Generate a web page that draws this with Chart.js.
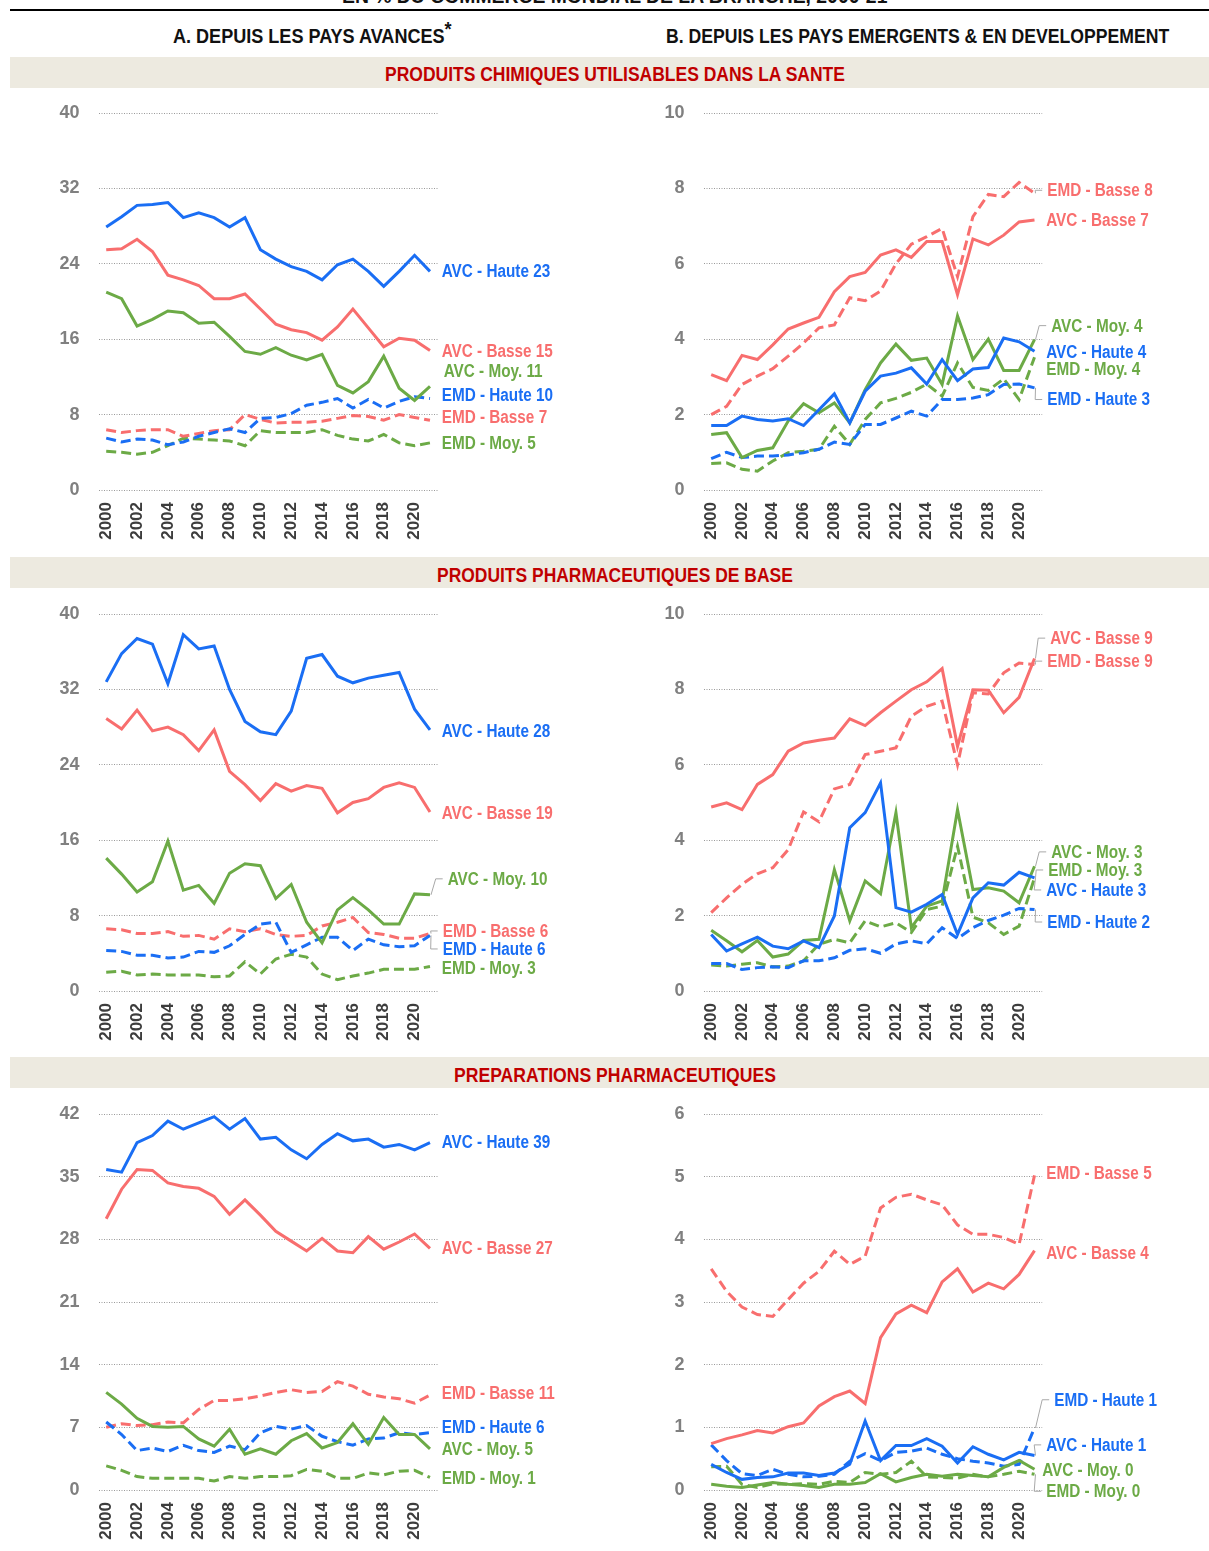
<!DOCTYPE html>
<html><head><meta charset="utf-8">
<script src="https://cdn.jsdelivr.net/npm/chart.js@4.4.1/dist/chart.umd.min.js"></script>
<style>
html,body{margin:0;padding:0;background:#fff;}
body{position:relative;width:1209px;height:1551px;overflow:hidden;font-family:"Liberation Sans",Arial,sans-serif;}
.rule{position:absolute;left:10px;top:9px;width:1199px;height:2px;background:#000;}
.band{position:absolute;left:10px;width:1199px;height:31px;background:#EDEAE0;}
.txt{position:absolute;left:0;top:0;white-space:nowrap;font-weight:bold;font-size:20px;line-height:20px;transform-origin:center center;color:#111;}
.red{color:#C00000;}
canvas{position:absolute;}
</style></head><body>
<div class="rule"></div>
<div class="band" style="top:57px"></div>
<div class="band" style="top:557px"></div>
<div class="band" style="top:1057px"></div>
<div class="txt" data-cx="614" data-cy="-4" data-w="545">EN % DU COMMERCE MONDIAL DE LA BRANCHE, 2000-21</div>
<div class="txt" data-cx="312" data-cy="35.5" data-w="279">A. DEPUIS LES PAYS AVANCES<span style="position:relative;top:-7px">*</span></div>
<div class="txt" data-cx="917" data-cy="35.5" data-w="503">B. DEPUIS LES PAYS EMERGENTS &amp; EN DEVELOPPEMENT</div>
<div class="txt red" data-cx="615" data-cy="74" data-w="460">PRODUITS CHIMIQUES UTILISABLES DANS LA SANTE</div>
<div class="txt red" data-cx="615" data-cy="575" data-w="356">PRODUITS PHARMACEUTIQUES DE BASE</div>
<div class="txt red" data-cx="615" data-cy="1075" data-w="322">PREPARATIONS PHARMACEUTIQUES</div>
<script>
// ---------- categories & ticks ----------
const years = ['2000','2001','2002','2003','2004','2005','2006','2007','2008','2009','2010','2011','2012','2013','2014','2015','2016','2017','2018','2019','2020','2021'];
const xTickLabels = ['2000','2002','2004','2006','2008','2010','2012','2014','2016','2018','2020'];
const yTicksA12 = [0,8,16,24,32,40];
const yTicksB12 = [0,2,4,6,8,10];
const yTicksA3 = [0,7,14,21,28,35,42];
const yTicksB3 = [0,1,2,3,4,5,6];

// ---------- 1A : produits chimiques, depuis pays avancés ----------
const chimA_avcHaute = [27.9,29.0,30.2,30.3,30.5,28.9,29.4,28.9,27.9,28.9,25.5,24.5,23.7,23.2,22.3,23.9,24.5,23.2,21.6,23.2,24.9,23.2];
const chimA_avcBasse = [25.5,25.6,26.6,25.3,22.8,22.3,21.7,20.3,20.3,20.8,19.2,17.6,17.0,16.7,15.9,17.3,19.2,17.2,15.2,16.1,15.9,14.8];
const chimA_avcMoy   = [21.0,20.3,17.4,18.1,19.0,18.8,17.7,17.8,16.3,14.7,14.4,15.1,14.3,13.8,14.4,11.1,10.3,11.5,14.2,10.8,9.5,11.0];
const chimA_emdHaute = [5.5,5.1,5.4,5.3,4.8,5.1,5.7,6.1,6.5,6.1,7.6,7.7,8.1,9.0,9.3,9.7,8.7,9.6,8.7,9.4,9.9,9.7];
const chimA_emdBasse = [6.4,6.1,6.3,6.4,6.4,5.7,6.0,6.3,6.4,8.0,7.5,7.1,7.2,7.2,7.3,7.6,7.9,7.8,7.4,8.0,7.7,7.4];
const chimA_emdMoy   = [4.1,4.0,3.8,4.0,4.7,5.5,5.4,5.3,5.2,4.7,6.3,6.1,6.1,6.1,6.4,5.8,5.4,5.2,5.9,5.0,4.7,5.0];

// ---------- 1B : produits chimiques, depuis pays émergents ----------
const chimB_avcHaute = [1.71,1.71,1.96,1.87,1.83,1.89,1.71,2.13,2.55,1.78,2.62,3.02,3.10,3.24,2.81,3.46,2.90,3.21,3.25,4.03,3.93,3.68];
const chimB_avcBasse = [3.06,2.90,3.57,3.46,3.85,4.27,4.43,4.58,5.26,5.66,5.77,6.23,6.37,6.17,6.59,6.59,5.18,6.66,6.50,6.76,7.11,7.16];
const chimB_avcMoy   = [1.47,1.52,0.86,1.05,1.12,1.83,2.29,2.05,2.31,1.78,2.66,3.37,3.87,3.44,3.50,2.80,4.62,3.46,4.00,3.17,3.17,3.99];
const chimB_emdHaute = [0.83,1.00,0.86,0.90,0.90,0.93,0.99,1.08,1.27,1.21,1.74,1.74,1.91,2.09,1.96,2.40,2.40,2.44,2.53,2.80,2.81,2.71];
const chimB_emdBasse = [2.00,2.22,2.80,3.02,3.22,3.55,3.90,4.30,4.38,5.10,5.02,5.28,6.00,6.52,6.72,6.94,5.66,7.25,7.84,7.78,8.16,7.87];
const chimB_emdMoy   = [0.70,0.72,0.55,0.50,0.77,0.99,1.03,1.08,1.69,1.21,1.87,2.31,2.43,2.59,2.81,2.49,3.37,2.72,2.64,2.95,2.40,3.52];

// ---------- 2A : produits pharmaceutiques de base, pays avancés ----------
const baseA_avcHaute = [32.8,35.8,37.4,36.8,32.6,37.8,36.3,36.6,32.0,28.6,27.5,27.2,29.7,35.3,35.7,33.4,32.7,33.2,33.5,33.8,29.9,27.7];
const baseA_avcBasse = [28.9,27.8,29.8,27.6,28.0,27.2,25.5,27.7,23.3,21.9,20.2,22.0,21.2,21.8,21.5,18.9,20.0,20.4,21.6,22.1,21.6,19.0];
const baseA_avcMoy   = [14.1,12.4,10.5,11.6,15.9,10.7,11.2,9.3,12.5,13.5,13.3,9.8,11.3,7.3,5.1,8.6,9.9,8.6,7.1,7.1,10.3,10.2];
const baseA_emdHaute = [4.3,4.2,3.8,3.8,3.5,3.6,4.2,4.1,4.8,6.0,7.1,7.3,4.1,4.9,5.7,5.7,4.3,5.5,4.9,4.7,4.8,5.9];
const baseA_emdBasse = [6.6,6.5,6.1,6.1,6.3,5.8,5.9,5.5,6.6,6.3,6.6,6.0,5.8,5.9,6.9,7.3,7.8,6.2,6.0,5.6,5.6,6.1];
const baseA_emdMoy   = [2.0,2.1,1.7,1.8,1.7,1.7,1.7,1.5,1.6,3.1,1.8,3.4,3.9,3.6,1.8,1.2,1.6,1.9,2.3,2.3,2.3,2.6];

// ---------- 2B : produits pharmaceutiques de base, pays émergents ----------
const baseB_avcHaute = [1.50,1.06,1.25,1.43,1.19,1.12,1.33,1.15,1.99,4.33,4.73,5.52,2.21,2.09,2.30,2.56,1.50,2.47,2.87,2.81,3.15,3.00];
const baseB_avcBasse = [4.88,4.99,4.81,5.48,5.74,6.36,6.58,6.65,6.71,7.22,7.04,7.38,7.69,7.99,8.20,8.55,6.49,7.99,7.98,7.38,7.79,8.82];
const baseB_avcMoy   = [1.61,1.33,1.04,1.34,0.90,0.98,1.34,1.37,3.22,1.86,2.92,2.58,4.73,1.68,2.25,2.39,4.81,2.69,2.74,2.65,2.34,3.31];
const baseB_emdHaute = [0.73,0.73,0.57,0.62,0.64,0.62,0.80,0.80,0.88,1.08,1.12,1.00,1.25,1.33,1.25,1.68,1.39,1.68,1.87,2.01,2.19,2.16];
const baseB_emdBasse = [2.08,2.47,2.83,3.11,3.27,3.75,4.75,4.49,5.36,5.48,6.27,6.36,6.45,7.29,7.55,7.69,6.00,7.91,7.88,8.44,8.70,8.66];
const baseB_emdMoy   = [0.69,0.66,0.71,0.75,0.64,0.66,0.80,1.24,1.37,1.28,1.86,1.70,1.81,1.55,2.16,2.25,3.84,1.96,1.81,1.50,1.72,3.00];

// ---------- 3A : préparations pharmaceutiques, pays avancés ----------
const prepA_avcHaute = [35.8,35.5,38.8,39.6,41.2,40.3,41.0,41.7,40.3,41.5,39.2,39.4,38.0,37.0,38.6,39.8,39.0,39.2,38.3,38.6,38.0,38.8];
const prepA_avcBasse = [30.3,33.6,35.8,35.7,34.3,33.9,33.7,32.8,30.8,32.4,30.7,28.9,27.8,26.7,28.1,26.7,26.5,28.3,26.9,27.7,28.6,27.0];
const prepA_avcMoy   = [10.9,9.6,8.0,7.1,7.0,7.1,5.7,4.9,6.8,4.0,4.6,4.0,5.5,6.3,4.7,5.3,7.4,5.1,8.1,6.2,6.2,4.6];
const prepA_emdHaute = [7.6,6.2,4.4,4.7,4.3,5.0,4.4,4.2,4.9,4.5,6.4,7.1,6.8,7.2,6.0,5.4,5.0,5.7,5.8,6.4,6.2,6.4];
const prepA_emdBasse = [7.0,7.4,7.2,7.3,7.6,7.5,9.0,10.0,10.0,10.2,10.5,10.9,11.2,10.9,11.0,12.1,11.6,10.7,10.4,10.2,9.7,10.6];
const prepA_emdMoy   = [2.7,2.2,1.5,1.3,1.3,1.3,1.3,1.0,1.5,1.3,1.5,1.5,1.6,2.3,2.1,1.3,1.3,1.9,1.7,2.1,2.2,1.4];

// ---------- 3B : préparations pharmaceutiques, pays émergents ----------
const prepB_avcHaute = [0.41,0.28,0.17,0.20,0.21,0.27,0.27,0.23,0.27,0.41,1.10,0.47,0.71,0.71,0.82,0.70,0.43,0.69,0.57,0.48,0.60,0.55];
const prepB_avcBasse = [0.74,0.82,0.88,0.95,0.91,1.01,1.07,1.34,1.49,1.58,1.38,2.43,2.81,2.95,2.83,3.32,3.53,3.16,3.30,3.21,3.44,3.82];
const prepB_avcMoy   = [0.09,0.06,0.04,0.08,0.12,0.09,0.07,0.04,0.09,0.09,0.12,0.26,0.13,0.20,0.25,0.22,0.25,0.23,0.21,0.36,0.47,0.33];
const prepB_emdHaute = [0.72,0.47,0.26,0.23,0.33,0.25,0.21,0.22,0.25,0.46,0.58,0.47,0.60,0.62,0.67,0.57,0.50,0.46,0.43,0.38,0.41,0.99];
const prepB_emdBasse = [3.53,3.17,2.92,2.80,2.77,3.04,3.30,3.49,3.81,3.60,3.73,4.50,4.67,4.72,4.63,4.55,4.23,4.08,4.08,4.03,3.92,5.02];
const prepB_emdMoy   = [0.37,0.38,0.09,0.04,0.10,0.09,0.10,0.09,0.14,0.12,0.28,0.25,0.28,0.46,0.21,0.20,0.19,0.25,0.21,0.25,0.30,0.25];

// ---------- series names ----------
const seriesNames = ['AVC - Haute','AVC - Basse','AVC - Moy.','EMD - Haute','EMD - Basse','EMD - Moy.'];

// ---------- styles ----------
const BLUE='#1A6EF4', RED='#F86E6E', GREEN='#6CAA46';
const seriesColors = [BLUE, RED, GREEN, BLUE, RED, GREEN];
const seriesDashed = [false,false,false,true,true,true];
const FONT = '"Liberation Sans", Arial, sans-serif';

// ---------- heading placement ----------
document.querySelectorAll('.txt').forEach(el=>{
  const w=el.offsetWidth;
  const s=(+el.dataset.w)/w;
  el.style.left=((+el.dataset.cx)-w/2)+'px';
  el.style.top=((+el.dataset.cy)-9.8)+'px';
  el.style.transform='scaleX('+s+')';
});

// ---------- end label plugin ----------
function endLabelPlugin(items){
  return {
    id:'endLabels',
    afterDatasetsDraw(chart){
      const ctx=chart.ctx, ys=chart.scales.y, area=chart.chartArea;
      items.forEach(it=>{
        const meta=chart.getDatasetMeta(it.ds);
        const p=meta.data[meta.data.length-1];
        const ly=ys.getPixelForValue(it.at);
        const lx=area.right+4+(it.dx||0);
        if(it.leader){
          ctx.save();
          ctx.strokeStyle='#a8a8a8'; ctx.lineWidth=1;
          ctx.beginPath();
          ctx.moveTo(p.x+1,p.y);
          ctx.lineTo(lx-12,ly);
          ctx.lineTo(lx-5,ly);
          ctx.stroke();
          ctx.restore();
        }
        ctx.save();
        ctx.font='bold 18px '+FONT;
        ctx.fillStyle=it.color;
        ctx.textBaseline='middle';
        ctx.textAlign='left';
        ctx.translate(lx,ly+1);
        ctx.scale(0.85,1);
        ctx.fillText(it.text,0,0);
        ctx.restore();
      });
    }
  };
}

// ---------- panel builder ----------
function makePanel(opt){
  const c=document.createElement('canvas');
  c.width=opt.w; c.height=opt.h;
  c.style.left=opt.left+'px'; c.style.top=opt.top+'px';
  c.style.width=opt.w+'px'; c.style.height=opt.h+'px';
  document.body.appendChild(c);
  const datasets=opt.series.map((d,i)=>({
    label:seriesNames[i],
    data:d,
    borderColor:seriesColors[i],
    backgroundColor:seriesColors[i],
    borderWidth:3,
    borderDash:seriesDashed[i]?[10,5]:[],
    pointRadius:0,
    tension:0,
    fill:false
  }));
  const items=opt.series.map((d,i)=>({
    ds:i,
    text:seriesNames[i]+' '+Math.round(d[d.length-1]),
    color:seriesColors[i],
    at:opt.labelAt[i],
    leader:!!opt.leader[i],
    dx:opt.labelDx?opt.labelDx[i]:0
  }));
  const yT=opt.yTicks;
  new Chart(c,{
    type:'line',
    data:{labels:years,datasets},
    options:{
      responsive:false, animation:false,
      layout:{padding:{top:13,right:opt.padRight,left:0,bottom:0}},
      plugins:{legend:{display:false},tooltip:{enabled:false}},
      scales:{
        x:{
          type:'category', offset:true,
          grid:{display:false,drawTicks:false}, border:{display:false},
          ticks:{autoSkip:false,minRotation:90,maxRotation:90,padding:12,color:'#3d3d3d',
                 font:{family:FONT,size:17,weight:'bold'},
                 callback(v){const l=this.getLabelForValue(v);return xTickLabels.includes(l)?l:'';}},
          afterFit(s){s.height=opt.xH;s.paddingLeft=0;s.paddingRight=0;}
        },
        y:{
          min:yT[0], max:yT[yT.length-1],
          afterBuildTicks(s){s.ticks=yT.map(v=>({value:v}));},
          grid:{color:'#9a9a9a',lineWidth:1,drawTicks:false},
          border:{display:false,dash:[1,1.5]},
          ticks:{padding:19,color:'#808080',font:{family:FONT,size:18,weight:'bold'}},
          afterFit(s){s.width=opt.yW;s.paddingTop=0;s.paddingBottom=0;}
        }
      }
    },
    plugins:[endLabelPlugin(items)]
  });
}

const colA={left:40,w:520,yW:58.5,padRight:122.3};
const colB={left:650,w:559,yW:53.5,padRight:166.8};
const rows=[{top:100,xH:70},{top:601,xH:70},{top:1101,xH:71}];

makePanel(Object.assign({},colA,rows[0],{h:460,yTicks:yTicksA12,
  series:[chimA_avcHaute,chimA_avcBasse,chimA_avcMoy,chimA_emdHaute,chimA_emdBasse,chimA_emdMoy],
  labelAt:[23.2,14.75,12.6,10.1,7.75,5.0], leader:[0,0,0,0,0,0], labelDx:[0,0,2,0,0,0]}));
makePanel(Object.assign({},colB,rows[0],{h:460,yTicks:yTicksB12,
  series:[chimB_avcHaute,chimB_avcBasse,chimB_avcMoy,chimB_emdHaute,chimB_emdBasse,chimB_emdMoy],
  labelAt:[3.67,7.16,4.36,2.40,7.95,3.22], leader:[0,0,1,1,1,0], labelDx:[0,0,5,1,1,0]}));
makePanel(Object.assign({},colA,rows[1],{h:460,yTicks:yTicksA12,
  series:[baseA_avcHaute,baseA_avcBasse,baseA_avcMoy,baseA_emdHaute,baseA_emdBasse,baseA_emdMoy],
  labelAt:[27.6,18.9,11.9,4.46,6.37,2.44], leader:[0,0,1,1,1,0], labelDx:[0,0,6,1,1,0]}));
makePanel(Object.assign({},colB,rows[1],{h:460,yTicks:yTicksB12,
  series:[baseB_avcHaute,baseB_avcBasse,baseB_avcMoy,baseB_emdHaute,baseB_emdBasse,baseB_emdMoy],
  labelAt:[2.68,9.36,3.69,1.83,8.75,3.21], leader:[1,1,1,1,1,1], labelDx:[0,4,5,1,1,2]}));
makePanel(Object.assign({},colA,rows[2],{h:460,yTicks:yTicksA3,
  series:[prepA_avcHaute,prepA_avcBasse,prepA_avcMoy,prepA_emdHaute,prepA_emdBasse,prepA_emdMoy],
  labelAt:[38.9,27.0,4.58,7.04,10.8,1.34], leader:[0,0,0,0,0,0], labelDx:[0,0,0,0,0,0]}));
makePanel(Object.assign({},colB,rows[2],{h:460,yTicks:yTicksB3,
  series:[prepB_avcHaute,prepB_avcBasse,prepB_avcMoy,prepB_emdHaute,prepB_emdBasse,prepB_emdMoy],
  labelAt:[0.72,3.78,0.32,1.44,5.06,-0.02], leader:[1,0,0,1,0,1], labelDx:[0,0,-4,8,0,0]}));
</script>
</body></html>
